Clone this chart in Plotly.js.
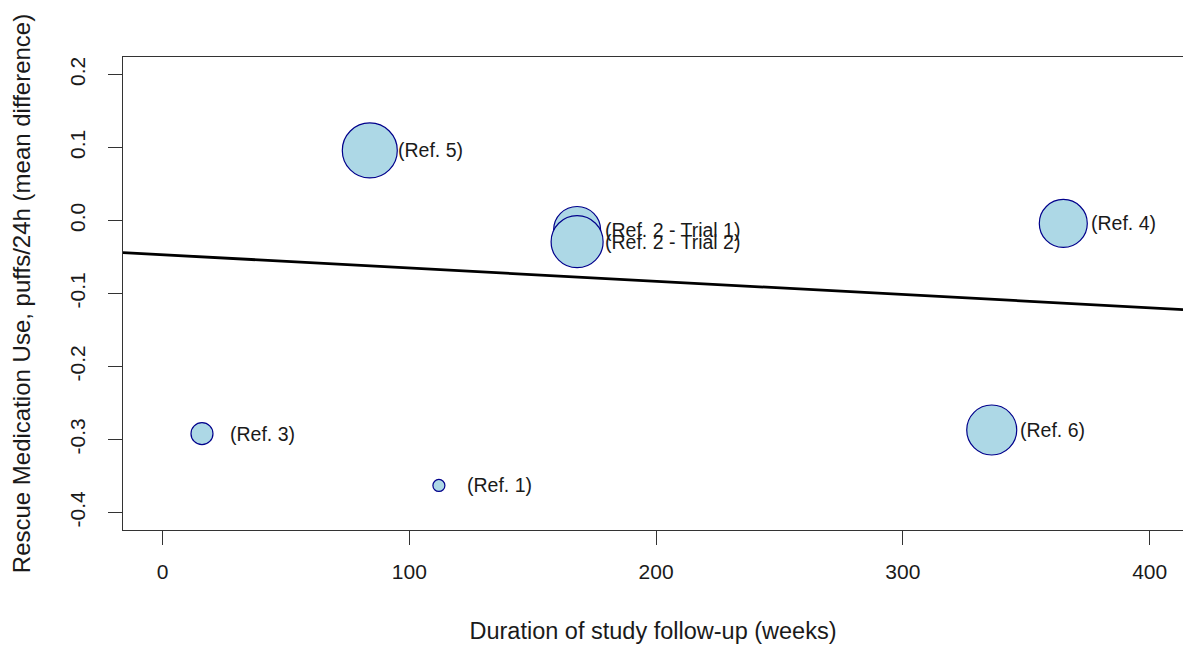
<!DOCTYPE html>
<html>
<head>
<meta charset="utf-8">
<script src="https://cdn.plot.ly/plotly-3.0.1.min.js"></script>
<style>html,body{margin:0;padding:0;background:#fff;}#chart{width:1183px;height:646px;}</style>
</head>
<body>
<div id="chart"></div>
<script>
// Data
var studyLabels = ["(Ref. 5)", "(Ref. 2 - Trial 1)", "(Ref. 2 - Trial 2)", "(Ref. 4)", "(Ref. 6)", "(Ref. 3)", "(Ref. 1)"];
var durationWeeks = [84, 168, 168, 365, 336, 16, 112];
var meanDifference = [0.096, -0.013, -0.029, -0.004, -0.287, -0.292, -0.363];
var studyWeight = [55, 47, 52, 48, 50, 22, 12];
// Meta-regression line end points
var fitX = [-16, 413.5];
var fitY = [-0.044, -0.122];
var xTickVals = [0, 100, 200, 300, 400];
var yTickVals = [-0.4, -0.3, -0.2, -0.1, 0.0, 0.1, 0.2];
var yTickText = ["-0.4", "-0.3", "-0.2", "-0.1", "0.0", "0.1", "0.2"];

var FONT = "Liberation Sans, Arial, sans-serif";

var traces = [
  {
    x: fitX, y: fitY, type: "scatter", mode: "lines",
    line: {color: "#000", width: 2.8}, hoverinfo: "skip", cliponaxis: true
  },
  {
    x: durationWeeks, y: meanDifference, type: "scatter", mode: "markers",
    marker: {size: studyWeight, sizemode: "diameter", color: "#ADD8E6",
             line: {color: "#00008B", width: 1.2}, opacity: 1},
    text: studyLabels, hoverinfo: "text", cliponaxis: false
  }
];

var annotations = studyLabels.map(function (lab, i) {
  return {
    x: durationWeeks[i], y: meanDifference[i], xref: "x", yref: "y",
    text: lab, showarrow: false, xanchor: "left", yanchor: "middle",
    xshift: 26, font: {family: FONT, size: 19.5, color: "#1a1a1a"}
  };
});

var layout = {
  width: 1183, height: 646,
  margin: {l: 123, r: 0, t: 57, b: 116, pad: 0},
  paper_bgcolor: "#fff", plot_bgcolor: "#fff",
  showlegend: false,
  font: {family: FONT, color: "#1a1a1a"},
  xaxis: {
    range: [-16, 413.5], tickvals: xTickVals, ticktext: xTickVals.map(String),
    ticks: "outside", ticklen: 14, tickwidth: 1, tickcolor: "#333",
    showline: true, linecolor: "#333", linewidth: 1.3, mirror: true,
    showgrid: false, zeroline: false,
    tickfont: {family: FONT, size: 21, color: "#1a1a1a"},
    ticklabelstandoff: 8,
    title: {text: "Duration of study follow-up (weeks)", font: {family: FONT, size: 23.5, color: "#1a1a1a"}, standoff: 41},
    automargin: false
  },
  yaxis: {
    range: [-0.424, 0.224], tickvals: yTickVals, ticktext: yTickText,
    ticks: "outside", ticklen: 14, tickwidth: 1, tickcolor: "#333",
    showline: true, linecolor: "#333", linewidth: 1.3,
    showgrid: false, zeroline: false, tickangle: -90,
    tickfont: {family: FONT, size: 21, color: "#1a1a1a"},
    ticklabelstandoff: 14,
    title: {text: "Rescue Medication Use, puffs/24h (mean difference)", font: {family: FONT, size: 24, color: "#1a1a1a"}, standoff: 29},
    automargin: false
  },
  annotations: annotations
};

Plotly.newPlot("chart", traces, layout, {displayModeBar: false, staticPlot: true});
</script>
</body>
</html>
